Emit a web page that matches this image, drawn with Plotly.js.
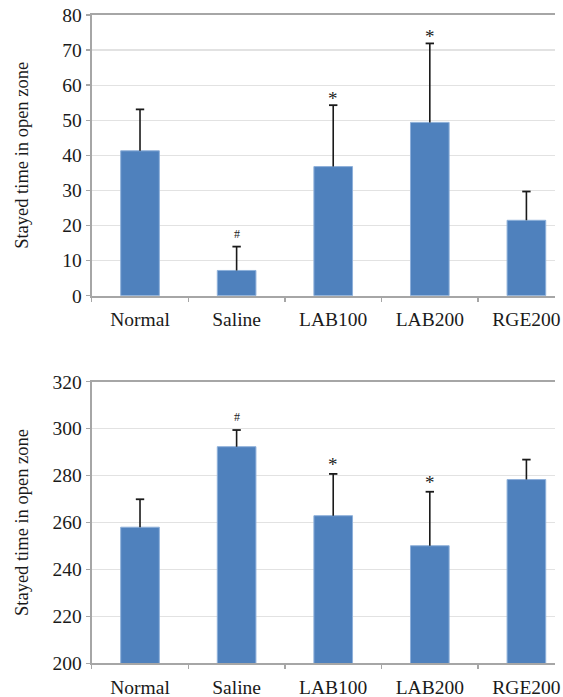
<!DOCTYPE html>
<html>
<head>
<meta charset="utf-8">
<script src="https://cdn.plot.ly/plotly-3.0.1.min.js"></script>
<style>html,body{margin:0;padding:0;background:#fff;}#chart{width:563px;height:697px;}</style>
</head>
<body>
<div id="chart"></div>
<script>
const categories = ['Normal', 'Saline', 'LAB100', 'LAB200', 'RGE200'];
const topValues = [41.3, 7.2, 36.8, 49.4, 21.5];
const topErrors = [11.8, 6.8, 17.5, 22.5, 8.2];
const topMarks = ['', '#', '*', '*', ''];
const bottomValues = [258.0, 292.3, 262.9, 250.1, 278.3];
const bottomErrors = [11.9, 7.1, 17.8, 23.0, 8.5];
const bottomMarks = ['', '#', '*', '*', ''];
const topTicks = [0, 10, 20, 30, 40, 50, 60, 70, 80];
const bottomTicks = [200, 220, 240, 260, 280, 300, 320];

const FONT = '"Liberation Serif", "Times New Roman", serif';
const BAR = '#4f81bd';
const INK = '#1a1a1a';

function barTrace(vals, errs, xa, ya) {
  return {
    type: 'bar', x: categories, y: vals, xaxis: xa, yaxis: ya, width: 0.4,
    marker: {color: BAR, line: {color: '#8eb0da', width: 1}},
    error_y: {type: 'data', array: errs, arrayminus: errs.map(() => 0), symmetric: false,
              color: INK, thickness: 1.6, width: 0},
    hoverinfo: 'none', showlegend: false
  };
}

function capTrace(vals, errs, xa, ya) {
  return {
    type: 'scatter', mode: 'markers', x: categories, y: vals.map((v, i) => v + errs[i]),
    xaxis: xa, yaxis: ya, cliponaxis: false,
    marker: {symbol: 'line-ew', size: 6, line: {color: INK, width: 1.8}},
    hoverinfo: 'none', showlegend: false
  };
}

function markAnnots(vals, errs, marks, xa, ya, shiftStar, shiftHash) {
  const out = [];
  marks.forEach((m, i) => {
    if (!m) return;
    out.push({
      x: categories[i], y: vals[i] + errs[i], xref: xa, yref: ya,
      text: m, showarrow: false, yanchor: 'middle',
      yshift: m === '#' ? shiftHash : shiftStar,
      font: {family: FONT, size: m === '#' ? 12 : 19, color: '#222'}
    });
  });
  return out;
}

const xCommon = {
  type: 'category', range: [-0.5, 4.296], domain: [0.1629, 0.9858],
  showline: true, linecolor: '#a6a6a6', linewidth: 2, mirror: true,
  ticks: 'outside', tickson: 'boundaries', ticklen: 4, tickcolor: '#a6a6a6', tickwidth: 1.5,
  ticklabelstandoff: 5,
  showgrid: false, tickfont: {family: FONT, size: 19.5, color: INK}, fixedrange: true
};
const yCommon = {
  showline: true, linecolor: '#a6a6a6', linewidth: 2,
  ticks: 'outside', ticklen: 4, tickcolor: '#a6a6a6', tickwidth: 1.5,
  showgrid: true, gridcolor: '#e2e2e2', gridwidth: 1.3, zeroline: false,
  tickfont: {family: FONT, size: 19.5, color: INK},
  fixedrange: true
};
const yTitleFont = {family: FONT, size: 18.5, color: INK};

const layout = {
  width: 563, height: 697, margin: {l: 0, r: 0, t: 0, b: 0},
  paper_bgcolor: '#fff', plot_bgcolor: '#fff',
  font: {family: FONT},
  xaxis: Object.assign({}, xCommon, {anchor: 'y'}),
  yaxis: Object.assign({}, yCommon, {domain: [0.5757, 0.9785], range: [0, 80], tickvals: topTicks, anchor: 'x',
    title: {text: 'Stayed time in open zone', font: yTitleFont, standoff: 29}}),
  xaxis2: Object.assign({}, xCommon, {anchor: 'y2'}),
  yaxis2: Object.assign({}, yCommon, {domain: [0.0483, 0.4524], range: [200, 320], tickvals: bottomTicks, anchor: 'x2',
    title: {text: 'Stayed time in open zone', font: yTitleFont, standoff: 19}}),
  annotations: markAnnots(topValues, topErrors, topMarks, 'x', 'y', 7, 13)
    .concat(markAnnots(bottomValues, bottomErrors, bottomMarks, 'x2', 'y2', 9, 13))
};

Plotly.newPlot('chart', [
  barTrace(topValues, topErrors, 'x', 'y'),
  capTrace(topValues, topErrors, 'x', 'y'),
  barTrace(bottomValues, bottomErrors, 'x2', 'y2'),
  capTrace(bottomValues, bottomErrors, 'x2', 'y2')
], layout, {displayModeBar: false, staticPlot: true});
</script>
</body>
</html>
